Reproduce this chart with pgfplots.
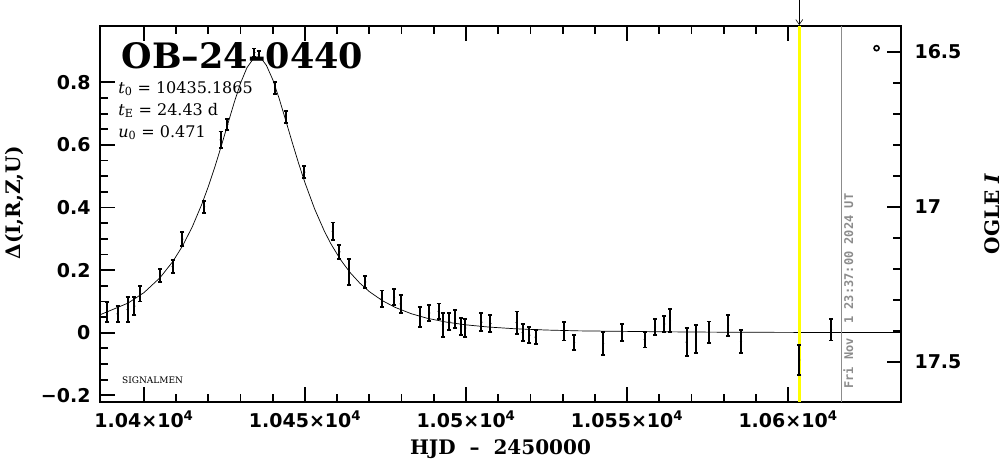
\documentclass[border=0pt]{standalone}
\usepackage{fontspec}
\usepackage{pgfplots}
\pgfplotsset{compat=1.18}
\usepackage{pgfplotstable}
\usetikzlibrary{arrows.meta}
\newfontfamily\tickfont{DejaVu Sans}
\newfontfamily\labfont{DejaVu Serif}
\newfontfamily\utfont{DejaVu Sans Mono}
\definecolor{gline}{RGB}{140,140,140}
\definecolor{ylw}{RGB}{255,255,0}

\pgfplotstableread{
t d e
10388.6 0.067 0.032
10391.8 0.060 0.025
10394.9 0.074 0.039
10397.0 0.085 0.028
10398.8 0.124 0.024
10405.0 0.183 0.020
10408.9 0.211 0.021
10411.9 0.299 0.022
10418.7 0.402 0.020
10423.8 0.616 0.027
10425.9 0.665 0.017
10434.3 0.895 0.013
10435.6 0.888 0.012
10440.7 0.782 0.020
10444.0 0.689 0.020
10449.8 0.513 0.020
10458.6 0.324 0.028
10460.7 0.258 0.023
10463.7 0.194 0.041
10468.7 0.162 0.020
10473.8 0.109 0.026
10477.7 0.114 0.025
10479.7 0.092 0.028
10485.7 0.051 0.032
10488.6 0.063 0.025
10491.5 0.068 0.025
10492.8 0.025 0.038
10494.8 0.035 0.027
10496.6 0.044 0.029
10498.5 0.019 0.027
10499.8 0.015 0.028
10504.8 0.034 0.028
10507.6 0.030 0.027
10515.7 0.032 0.036
10517.6 0.001 0.027
10519.7 -0.008 0.026
10521.6 -0.014 0.022
10530.5 0.005 0.030
10533.6 -0.031 0.024
10542.6 -0.034 0.037
10548.5 0.001 0.027
10555.5 -0.022 0.025
10558.7 0.018 0.025
10561.6 0.028 0.025
10563.4 0.039 0.036
10568.5 -0.030 0.044
10571.4 -0.020 0.045
10575.5 0.002 0.034
10581.4 0.023 0.034
10585.4 -0.029 0.037
10603.5 -0.087 0.048
10613.4 0.009 0.034
}\datatab

\pgfplotstableread{
t d
10386.34 0.0572
10395 0.0944
10400 0.1281
10405 0.1759
10409 0.2281
10412 0.2777
10415 0.3383
10418 0.4115
10420 0.4676
10422 0.5294
10424 0.5962
10426 0.6658
10428 0.7348
10430 0.7977
10432 0.8471
10434 0.8760
10435.19 0.8808
10436.5 0.8749
10438 0.8546
10440 0.8083
10442 0.7474
10444 0.6790
10446 0.6093
10448 0.5417
10450 0.4789
10453 0.3952
10456 0.3248
10458 0.2848
10461 0.2338
10464 0.1923
10467 0.1586
10470 0.1312
10474 0.1026
10478 0.0809
10483 0.0607
10488 0.0460
10494 0.0337
10500 0.0251
10507 0.0181
10515 0.0128
10525 0.0085
10535 0.0059
10550 0.0042
10560 0.0030
10575 0.0019
10590 0.0013
10605 0.0009
10620 0.0006
10635.09 0.0005
}\modeltab

\begin{document}
\begin{tikzpicture}
\begin{axis}[name=main, scale only axis, width=801pt, height=375.7pt,
 xmin=10386.34, xmax=10635.09, ymin=-0.2204, ymax=0.9799,
 scaled x ticks=false, scaled y ticks=false,
 axis line style={line width=1.8pt},
 every tick/.style={black, line width=1.8pt},
 major tick length=15pt, minor tick length=8pt,
 tick align=inside,
 xtick={10400,10450,10500,10550,10600},
 xticklabels={1.04×10\textsuperscript{4},1.045×10\textsuperscript{4},1.05×10\textsuperscript{4},1.055×10\textsuperscript{4},1.06×10\textsuperscript{4}},
 minor x tick num=4,
 xtick pos=both,
 ytick={-0.2,0,0.2,0.4,0.6,0.8},
 yticklabels={−0.2,0,0.2,0.4,0.6,0.8},
 minor y tick num=3,
 ytick pos=left,
 tick label style={font=\tickfont\bfseries\fontsize{19}{22}\selectfont},
 xticklabel style={yshift=-6pt},
 yticklabel style={xshift=-6pt},
 xlabel={HJD\ \ –\ \ 2450000},
 ylabel={Δ(I,R,Z,U)},
 label style={font=\labfont\bfseries\fontsize{20}{24}\selectfont},
 xlabel style={at={(axis description cs:0.5,-0.127)}, anchor=center},
 ylabel style={at={(axis description cs:-0.1061,0.529)}, anchor=center},
 clip=false,
]
\node[anchor=base west, inner sep=0pt, font=\labfont\bfseries\fontsize{35}{40}\selectfont] at (axis cs:10393.07,0.8447) {OB–24–0440};
\node[anchor=base west, inner sep=0pt, font=\labfont\fontsize{16}{19}\selectfont] at (axis cs:10392.0,0.765) {\textit{t}\textsubscript{0} = 10435.1865};
\node[anchor=base west, inner sep=0pt, font=\labfont\fontsize{16}{19}\selectfont] at (axis cs:10392.0,0.6955) {\textit{t}\textsubscript{E} = 24.43 d};
\node[anchor=base west, inner sep=0pt, font=\labfont\fontsize{16}{19}\selectfont] at (axis cs:10392.0,0.624) {\textit{u}\textsubscript{0} = 0.471};
\node[anchor=base west, inner sep=0pt, font=\labfont\fontsize{9}{11}\selectfont] at (axis cs:10393.17,-0.1617) {SIGNALMEN};

\addplot[black, line width=0.7pt, no marks] table[x=t, y=d] {\modeltab};
\addplot[gline, line width=0.9pt, no marks] coordinates {(10616.5,-0.2204) (10616.5,0.9799)};
\addplot[ylw, line width=3pt, no marks] coordinates {(10603.5,-0.2204) (10603.5,0.9799)};
\addplot[black, only marks, mark=*, mark size=0.8pt,
  error bars/.cd, y dir=both, y explicit,
  error bar style={line width=2pt},
  error mark options={rotate=90, mark size=2pt, line width=1.8pt}]
  table[x=t, y=d, y error=e] {\datatab};
\addplot[black, only marks, mark=o, mark size=2.5pt, line width=1.6pt] coordinates {(10627.5,0.909)};
\draw[line width=0.6pt, -{Straight Barb[length=5pt,width=7pt]}] (axis cs:10603.5,1.063) -- (axis cs:10603.5,0.983);
\node[rotate=90, anchor=north west, inner sep=1pt, text=gline, font=\utfont\bfseries\fontsize{12}{14}\selectfont] at (axis cs:10616.8,-0.183) {Fri Nov\ \ 1 23:37:00 2024 UT};
\end{axis}
\begin{axis}[scale only axis, width=801pt, height=375.7pt,
 xmin=10386.34, xmax=10635.09,
 ymin=16.417, ymax=17.629, y dir=reverse,
 scaled y ticks=false,
 hide x axis,
 axis line style={line width=1.8pt},
 every tick/.style={black, line width=1.8pt},
 major tick length=14pt, minor tick length=8pt,
 tick align=inside,
 ytick={16.5,17,17.5},
 yticklabels={16.5,17,17.5},
 minor y tick num=4,
 ytick pos=right,
 tick label style={font=\tickfont\bfseries\fontsize{19}{22}\selectfont},
 yticklabel style={xshift=10pt},
 ylabel={OGLE \textit{I}},
 label style={font=\labfont\bfseries\fontsize{20}{24}\selectfont},
 ylabel style={at={(axis description cs:1.1137,0.5)}, anchor=center},
]
\addplot[draw=none, no marks] coordinates {(10500,17)};
\end{axis}
\pgfresetboundingbox
\path[use as bounding box] ([xshift=-100pt,yshift=-57.3pt]main.south west) rectangle ([xshift=103pt,yshift=26pt]main.north east);
\end{tikzpicture}
\end{document}
